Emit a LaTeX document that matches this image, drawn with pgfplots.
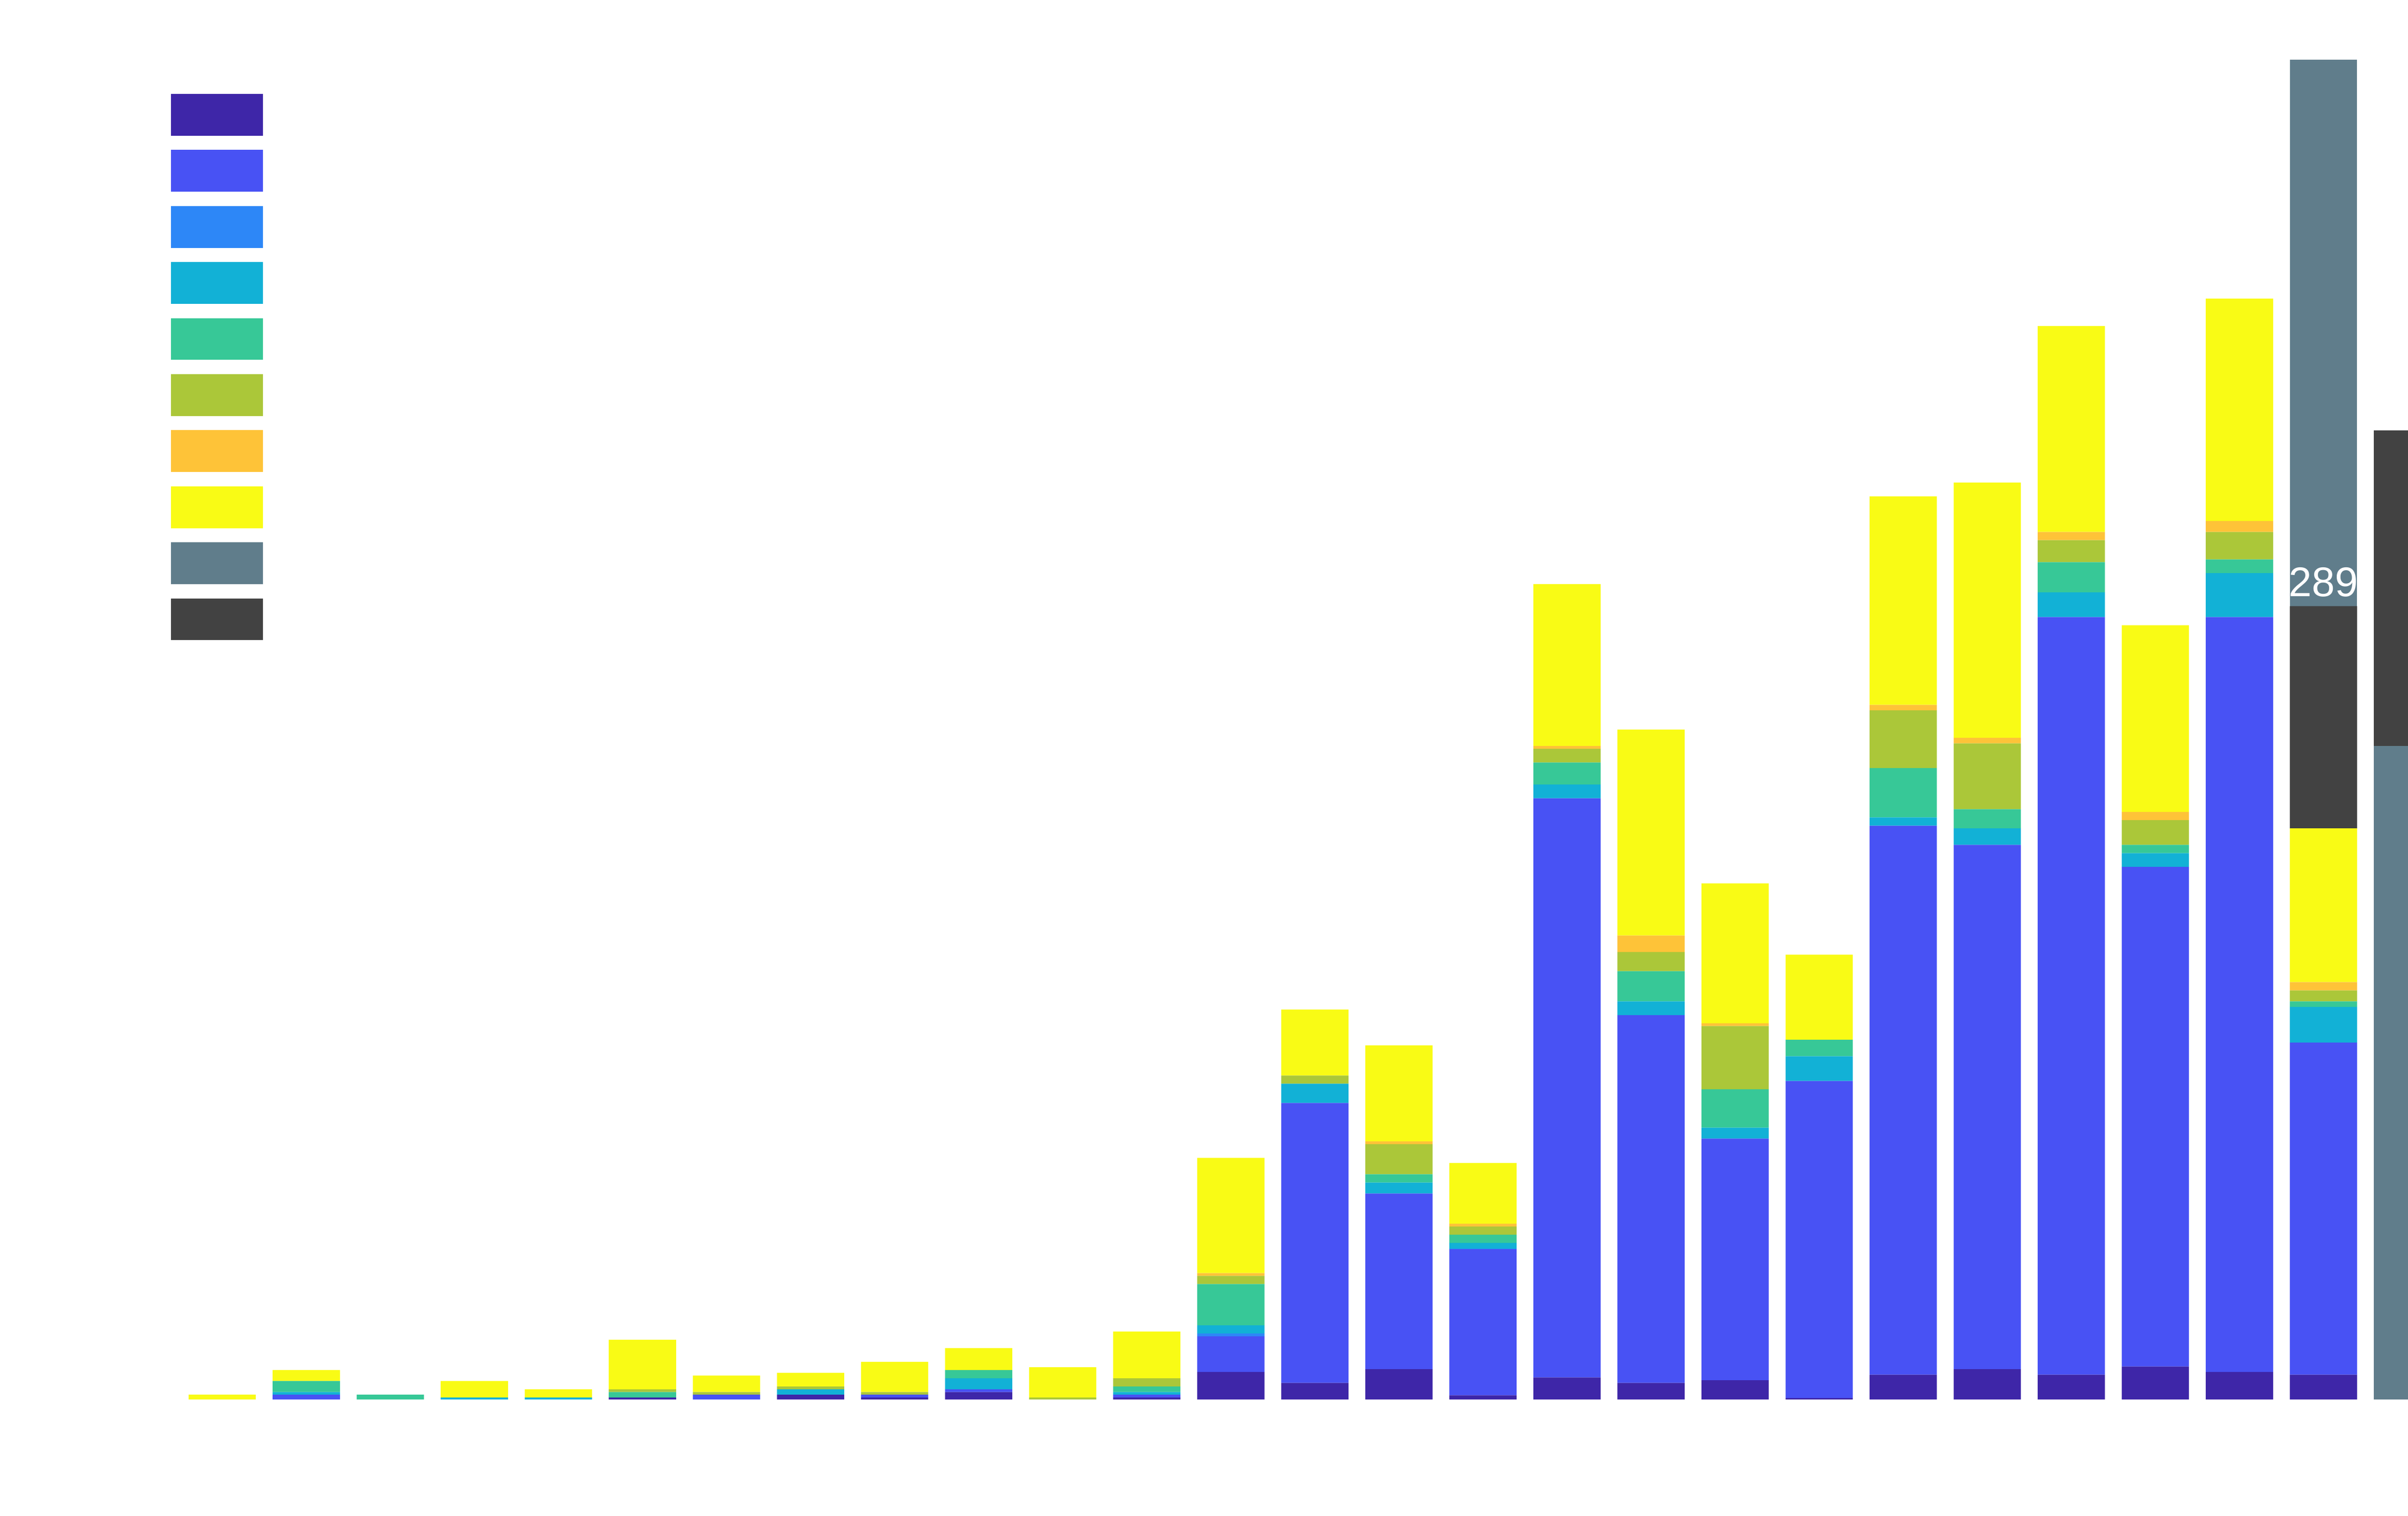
\documentclass[border=0pt]{standalone}
\usepackage{pgfplots}
\usepackage{pgfplotstable}
\pgfplotsset{compat=1.18}
\usepackage{fontspec}
\setmainfont{Liberation Sans}
\definecolor{c1}{HTML}{3E26A8}
\definecolor{c2}{HTML}{4852F4}
\definecolor{c3}{HTML}{2D87F7}
\definecolor{c4}{HTML}{12B1D6}
\definecolor{c5}{HTML}{37C897}
\definecolor{c6}{HTML}{ABC739}
\definecolor{c7}{HTML}{FEC338}
\definecolor{c8}{HTML}{F9FB15}
\definecolor{slate}{HTML}{607D8B}
\definecolor{dark}{HTML}{424242}

\pgfplotstableread{
x  p    b     az   cy   gr   ol   or  ye    slA  dk   slB
0  0    0     0    0    0    0    0   1.7   0    0    0
1  0    1.7   0    1    4    0    0   4     0    0    0
2  0    0     0    0    1.7  0    0   0     0    0    0
3  0    0     0    0.7  0    0    0   6     0    0    0
4  0    0     0    0.7  0    0    0   3     0    0    0
5  0.7  0     0    0    2    1    0   18    0    0    0
6  0    1.7   0    0    0    1    0   6     0    0    0
7  1.7  0     0    2    0    1    0   5     0    0    0
8  0.7  1     0    0    0    1    0   11    0    0    0
9  2.7  1     0    4    3    0    0   8     0    0    0
10 0    0     0    0    0    0.7  0   11    0    0    0
11 0.7  1     0    1    2    3    0   17    0    0    0
12 10   13    1    3    15   3    1   42    0    0    0
13 6    102   0    7    0    3    0   24    0    0    0
14 11   64    0    4    3    11   1   35    0    0    0
15 1.5  53.2  0.2  2.1  3    3    1   22.1  0    0    0
16 8    211   0    5    8    5    1   59    0    0    0
17 6    134   0    5    11   7    6   75    0    0    0
18 7    88    0    4    14   23   1   51    0    0    0
19 0.5  115.5 0    9    6    0    0   31    0    0    0
20 9    200   0    3    18   21   2   76    0    0    0
21 11   191   0    6    7    24   2   93    0    0    0
22 9    276   0    9    11   8    3   75    0    0    0
23 12   182   0    5    3    9    3   68    0    0    0
24 10   275   0    16   5    10   4   81    0    0    0
25 9    121   0    13   2    4    3   56    0    81   199
26 0    0     0    0    0    0    0   0     238  115  0
}\data

\pgfplotsset{swatch/.style={legend image code/.code={\fill[#1] (0bp,-13.4bp) rectangle (59.6bp,13.4bp);}}}

\begin{document}
\begin{tikzpicture}
\path[use as bounding box] (0,0) rectangle (1568bp,987bp);
\begin{axis}[
  at={(0,0)}, anchor=south west,
  scale only axis, width=1568bp, height=987bp,
  xmin=-2.6439, xmax=26.006, ymin=-42.35, ymax=509.79,
  axis lines=none, ticks=none,
  ybar stacked, bar width=0.8,
  legend style={at={(axis description cs:0.07079,0.93820)}, anchor=north west,
    draw=none, fill=none, inner sep=0pt, row sep=9.3bp, nodes={inner sep=0pt}},
  legend cell align=left,
]
\addplot[fill=c1, draw=none, forget plot] table[x=x, y=p]{\data};
\addplot[fill=c2, draw=none, forget plot] table[x=x, y=b]{\data};
\addplot[fill=c3, draw=none, forget plot] table[x=x, y=az]{\data};
\addplot[fill=c4, draw=none, forget plot] table[x=x, y=cy]{\data};
\addplot[fill=c5, draw=none, forget plot] table[x=x, y=gr]{\data};
\addplot[fill=c6, draw=none, forget plot] table[x=x, y=ol]{\data};
\addplot[fill=c7, draw=none, forget plot] table[x=x, y=or]{\data};
\addplot[fill=c8, draw=none, forget plot] table[x=x, y=ye]{\data};
\addplot[fill=slate, draw=none, forget plot] table[x=x, y=slA]{\data};
\addplot[fill=dark, draw=none, forget plot] table[x=x, y=dk]{\data};
\addplot[fill=slate, draw=none, forget plot] table[x=x, y=slB]{\data};
\addlegendimage{swatch=c1}\addlegendentry{}
\addlegendimage{swatch=c2}\addlegendentry{}
\addlegendimage{swatch=c3}\addlegendentry{}
\addlegendimage{swatch=c4}\addlegendentry{}
\addlegendimage{swatch=c5}\addlegendentry{}
\addlegendimage{swatch=c6}\addlegendentry{}
\addlegendimage{swatch=c7}\addlegendentry{}
\addlegendimage{swatch=c8}\addlegendentry{}
\addlegendimage{swatch=slate}\addlegendentry{}
\addlegendimage{swatch=dark}\addlegendentry{}
\coordinate (lab) at (axis cs:25,289);
\end{axis}
\node[text=white, font=\fontsize{27bp}{27bp}\selectfont, anchor=base, inner sep=0pt, yshift=6.4bp] at (lab) {289};
\end{tikzpicture}
\end{document}
